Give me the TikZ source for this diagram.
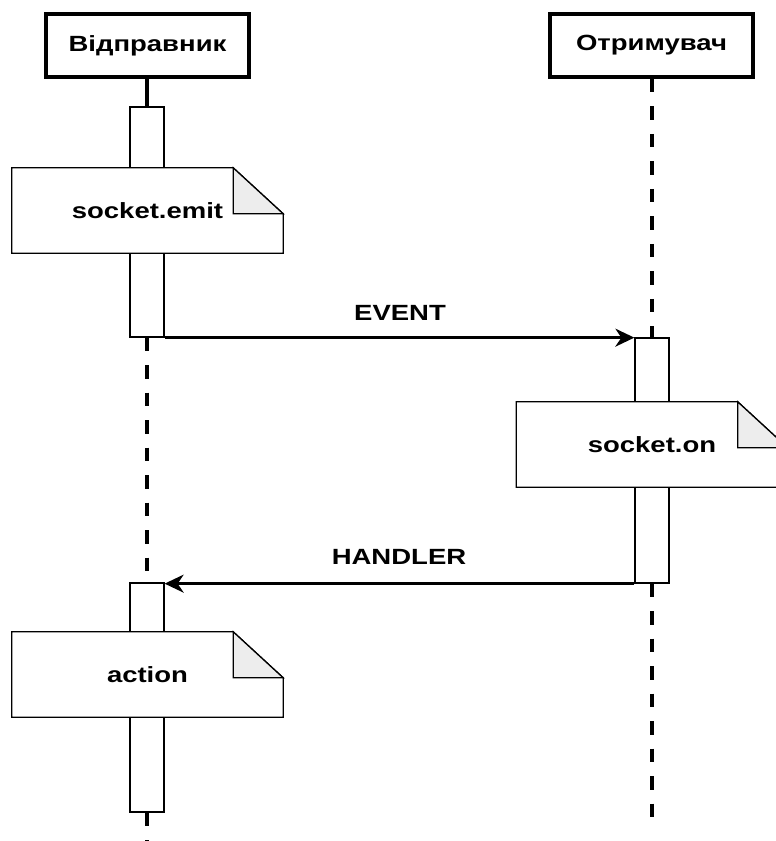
\documentclass[tikz,border=0pt]{standalone}
\usepackage{fontspec}
\setmainfont{Liberation Sans}[FakeStretch=1.25]
\usetikzlibrary{arrows.meta}
\begin{document}
\begin{tikzpicture}[x=1pt,y=-1pt,
  every node/.style={font=\fontsize{22}{26}\selectfont\bfseries, inner sep=0pt},
  headbox/.style={draw, line width=3.5pt, fill=white, minimum width=203pt, minimum height=63pt},
  actbox/.style={draw, line width=1.3pt, fill=white, minimum width=34pt},
  notetext/.style={minimum width=271pt, minimum height=85pt},
  notefold/.style={draw, line width=1.3pt, fill=white},
  foldtri/.style={draw, line width=1.3pt, fill=black!7},
  lifeline/.style={line width=3.5pt, dash pattern=on 13.5pt off 14pt},
  msg/.style={line width=2.4pt, -{Stealth[length=19pt, width=18pt, inset=6pt]}},
  lbl/.style={}
]
\useasboundingbox (0,0) rectangle (776,841);
\clip (0,0) rectangle (776,841);

% heads
\node[headbox] (snd) at (147.5,45.5) {Відправник};
\node[headbox] (rcv) at (651.5,45.5) {Отримувач};

% activations (placed first so lifelines can refer to them)
\node[actbox, minimum height=230pt] (a1) at (147,222) {};
\node[actbox, minimum height=245pt] (r1) at (652,460.5) {};
\node[actbox, minimum height=229pt] (a2) at (147,697.5) {};
\coordinate (sEnd) at (147,845);
\coordinate (rEnd) at (652,818);

% lifelines
\draw[line width=3.5pt] (snd.south -| a1.north) -- (a1.north);
\draw[lifeline] (a1.south) -- (a2.north);
\draw[lifeline] (a2.south) -- (sEnd);
\draw[lifeline] (rcv.south -| r1.north) -- (r1.north);
\draw[lifeline] (r1.south) -- (rEnd);

% redraw activations on top of lifelines
\node[actbox, minimum height=230pt] at (147,222) {};
\node[actbox, minimum height=245pt] at (652,460.5) {};
\node[actbox, minimum height=229pt] at (147,697.5) {};

% notes
\foreach \nm/\cx/\cy in {n1/147.5/210.5, n2/652/444.5, n3/147.5/674.5}{
  \node[notetext] (\nm) at (\cx,\cy) {};
  \draw[notefold] (\nm.north west) -- ([xshift=-50pt]\nm.north east)
     -- ([yshift=-46pt]\nm.north east) -- (\nm.south east) -- (\nm.south west) -- cycle;
  \draw[foldtri] ([xshift=-50pt]\nm.north east) -- ([xshift=-50pt,yshift=-46pt]\nm.north east)
     -- ([yshift=-46pt]\nm.north east) -- cycle;
}
\node at (n1) {socket.emit};
\node at (n2) {socket.on};
\node at (n3) {action};

% messages
\draw[msg] (a1.south east) -- (a1.south east -| r1.west);
\node[lbl] (ev) at (400,313) {EVENT};
\draw[msg] (r1.south west) -- (r1.south west -| a2.east);
\node[lbl] (hd) at (399,557) {HANDLER};
\end{tikzpicture}
\end{document}
